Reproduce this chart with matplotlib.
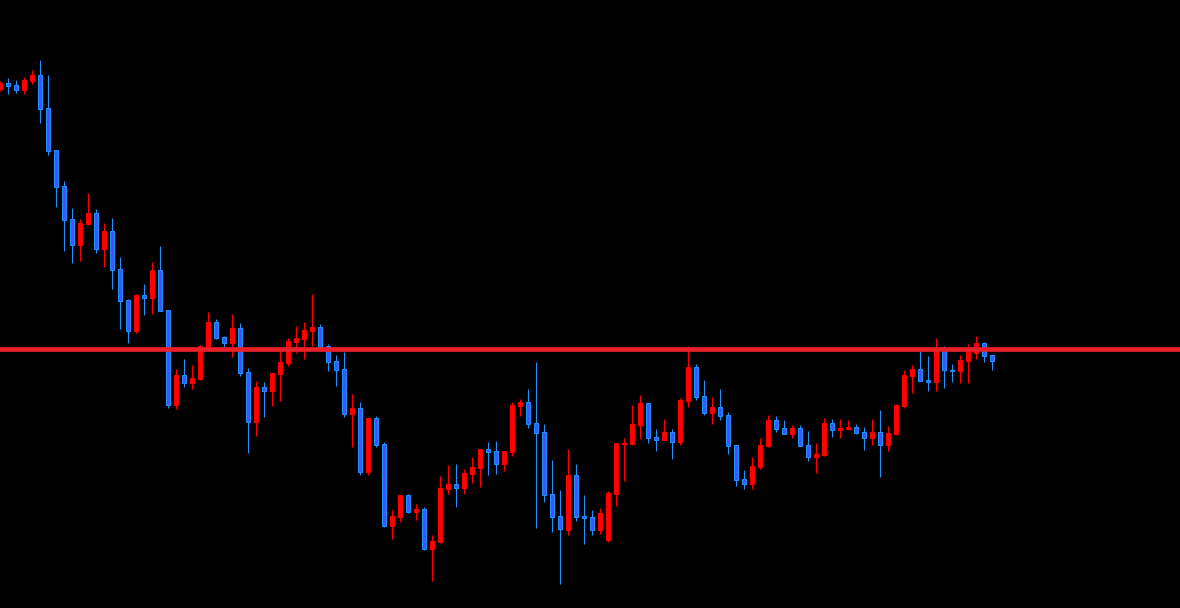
import numpy as np
import matplotlib
matplotlib.use("Agg")
import matplotlib.pyplot as plt

# Price levels read off the chart (screen units, measured from the top,
# so the y axis is inverted: smaller number = higher price)
opens = [89, 83, 85, 90, 81, 75, 108, 150, 186, 219, 245, 224, 213, 249, 231, 269, 300, 331, 295, 298,
         270, 310, 405, 375, 383, 379, 349, 322, 337, 343, 328, 372, 422, 387, 391, 374, 363, 342, 339, 331,
         327, 346, 361, 369, 414, 408, 472, 418, 444, 526, 517, 495, 512, 509, 549, 542, 489, 484, 488, 474,
         468, 449, 451, 464, 452, 406, 402, 423, 432, 494, 516, 530, 475, 516, 517, 530, 540, 494, 444, 444,
         425, 403, 437, 440, 432, 442, 401, 367, 396, 413, 407, 415, 445, 479, 484, 467, 446, 420, 428, 434,
         428, 445, 457, 455, 423, 430, 429, 427, 432, 438, 432, 445, 434, 406, 376, 369, 380, 382, 348, 370,
         371, 361, 353, 343, 355]
closes = [83, 86, 90, 80, 75, 109, 151, 187, 220, 245, 223, 213, 249, 231, 270, 301, 331, 295, 298, 270,
          311, 405, 375, 383, 378, 346, 322, 338, 343, 328, 373, 422, 387, 391, 373, 362, 341, 338, 330, 327,
          347, 362, 370, 414, 408, 472, 418, 445, 526, 516, 495, 512, 509, 549, 541, 488, 484, 488, 473, 467,
          449, 452, 464, 451, 405, 402, 424, 433, 495, 517, 529, 475, 517, 518, 530, 513, 493, 443, 443, 424,
          403, 438, 440, 432, 442, 400, 367, 397, 413, 407, 416, 446, 480, 484, 466, 445, 420, 429, 434, 428,
          446, 457, 454, 423, 430, 428, 427, 433, 438, 432, 445, 433, 405, 375, 369, 381, 382, 350, 370, 371,
          360, 350, 343, 356, 361]
highs = [81, 78, 80, 77, 70, 60, 75, 150, 181, 208, 219, 193, 209, 223, 218, 257, 299, 294, 284, 262,
         246, 310, 369, 359, 365, 345, 312, 319, 336, 314, 323, 368, 381, 382, 373, 350, 338, 326, 322, 294,
         324, 344, 355, 352, 394, 402, 418, 416, 442, 510, 495, 494, 504, 507, 535, 476, 465, 464, 469, 457,
         449, 442, 441, 451, 402, 399, 389, 362, 424, 460, 490, 449, 464, 495, 510, 508, 491, 443, 438, 405,
         395, 403, 429, 419, 429, 398, 346, 364, 380, 397, 389, 412, 445, 470, 457, 438, 415, 416, 420, 425,
         425, 431, 443, 418, 419, 419, 420, 424, 427, 419, 410, 426, 404, 370, 365, 350, 356, 338, 346, 364,
         355, 344, 336, 342, 355]
lows = [91, 94, 93, 94, 84, 123, 155, 207, 251, 263, 261, 225, 253, 267, 289, 329, 343, 333, 315, 314,
        311, 408, 409, 387, 389, 380, 349, 339, 347, 357, 376, 453, 436, 417, 406, 401, 366, 353, 359, 346,
        347, 371, 386, 417, 447, 475, 475, 447, 527, 539, 522, 513, 520, 550, 581, 543, 494, 507, 494, 483,
        487, 475, 474, 471, 456, 416, 428, 528, 502, 532, 584, 535, 521, 544, 535, 534, 542, 506, 481, 445,
        439, 443, 451, 440, 459, 445, 407, 400, 415, 424, 420, 454, 486, 489, 489, 469, 447, 432, 434, 438,
        446, 461, 473, 456, 437, 438, 429, 434, 450, 445, 477, 451, 435, 408, 393, 381, 391, 391, 388, 382,
        383, 383, 359, 362, 370]

level = 349.3  # horizontal resistance line

bull_fill, bull_edge = "#ff0000", "#ff0000"
bear_fill, bear_edge = "#4152ff", "#1e90ff"

fig = plt.figure(figsize=(11.8, 6.08), dpi=100, facecolor="black")
ax = fig.add_axes([0, 0, 1, 1])
ax.set_facecolor("black")

o = np.array(opens, dtype=float)
c = np.array(closes, dtype=float)
h = np.array(highs, dtype=float)
l = np.array(lows, dtype=float)
x = np.arange(len(o))
bull = c < o  # inverted axis: smaller value is higher

wick_colors = np.where(bull, bull_edge, bear_edge)
ax.vlines(x, h, l, colors=wick_colors, linewidth=0.8, zorder=2)

height = c - o
height = np.where(np.abs(height) < 1, np.where(height < 0, -1, 1), height)
ax.bar(x[bull], height[bull], bottom=o[bull], width=0.5,
       color=bull_fill, edgecolor=bull_edge, linewidth=0.72, zorder=3)
ax.bar(x[~bull], height[~bull], bottom=o[~bull], width=0.5,
       color=bear_fill, edgecolor=bear_edge, linewidth=0.72, zorder=3)

ax.axhline(level, color="#e8202a", linewidth=3.4, zorder=4)

# one candle every 8 px, first candle centred half a pixel left of the edge
ax.set_xlim(0.0625, 0.0625 + 1180 / 8)
ax.set_ylim(608, 0)
ax.axis("off")

fig.savefig("out.png", dpi=100, facecolor="black")
